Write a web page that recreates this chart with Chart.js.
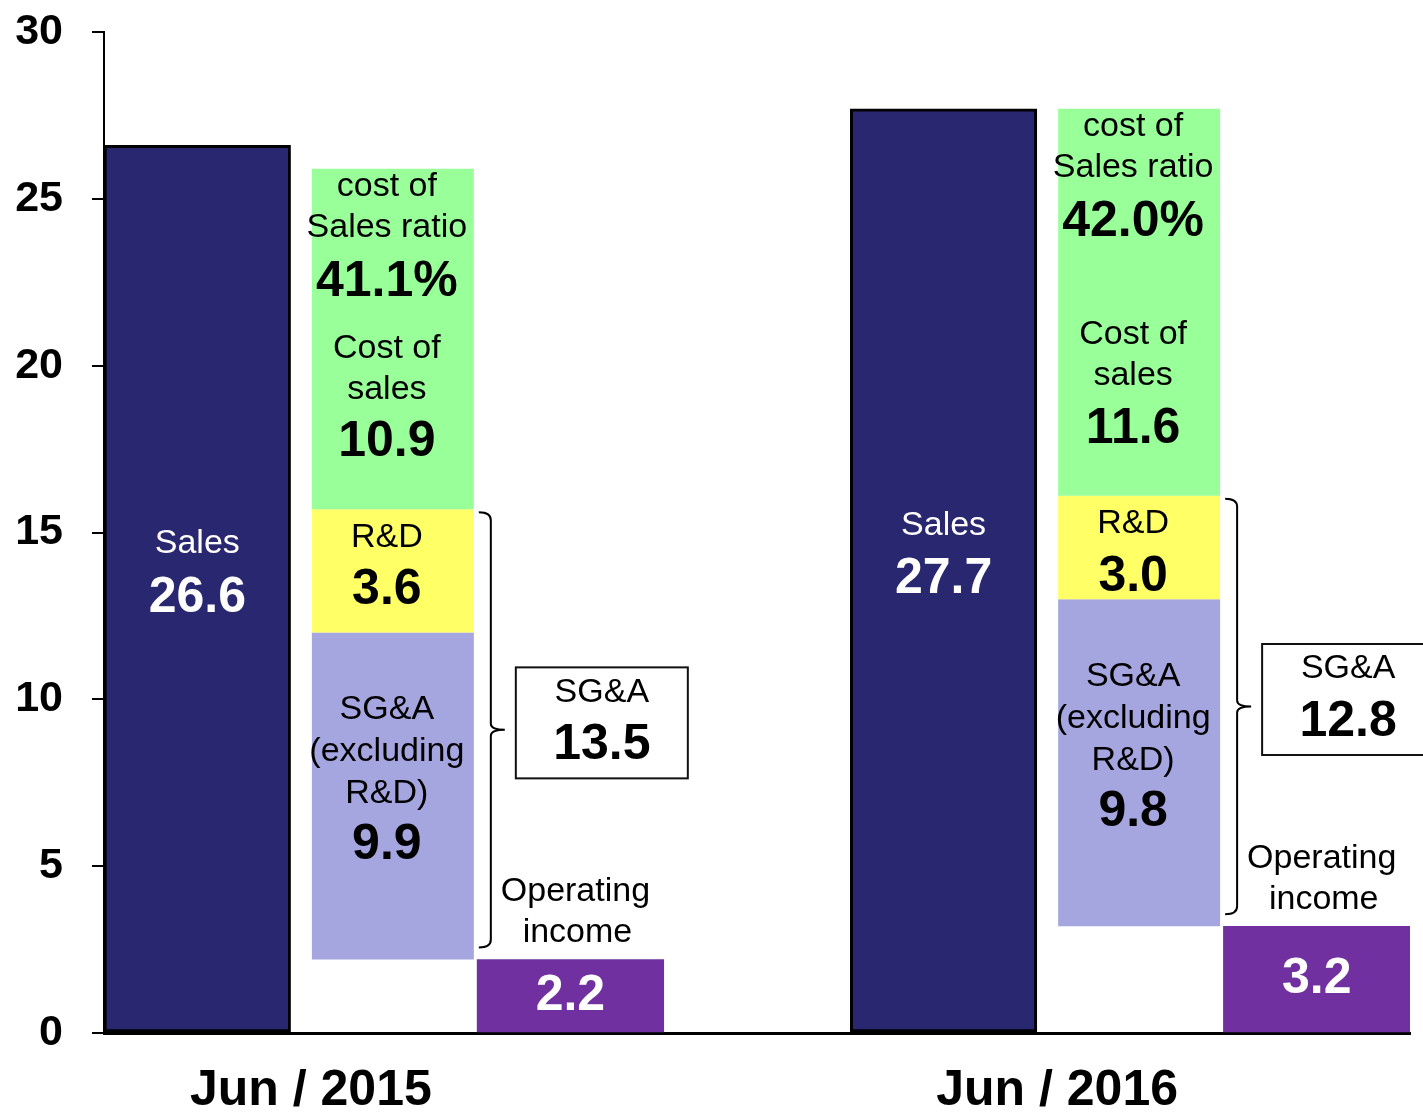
<!DOCTYPE html>
<html>
<head>
<meta charset="utf-8">
<script src="https://cdn.jsdelivr.net/npm/chart.js@4"></script>
<style>
  body { margin: 0; background: #fff; overflow: hidden; }
  canvas { display: block; }
</style>
</head>
<body>
<canvas id="chart" width="1423" height="1113"></canvas>
<script>
// periods on the x axis
const periods = ['Jun / 2015', 'Jun / 2016'];

// bar extents as drawn on the slide
const sales = [26.6, 27.7];
const costOfSales = [[15.7, 25.9], [16.1, 27.7]];
const rnd = [[12.0, 15.7], [13.0, 16.1]];
const sgaExRnd = [[2.2, 12.0], [3.2, 13.0]];
const operatingIncome = [2.2, 3.2];

// figures printed on the bars
const costRatioText = ['41.1%', '42.0%'];
const costText = ['10.9', '11.6'];
const rndText = ['3.6', '3.0'];
const sgaExText = ['9.9', '9.8'];
const sgaTotalText = ['13.5', '12.8'];

const FONT = '"Liberation Sans", Arial, sans-serif';

// three columns per period (sales / cost breakdown / operating income), one empty slot between periods
const slotLabels = [];
const slotOf = [];
periods.forEach((p, i) => {
  if (i > 0) slotLabels.push('');
  slotOf.push(slotLabels.length);
  slotLabels.push('', p, '');
});

const place = (values, col) => {
  const arr = slotLabels.map(() => null);
  values.forEach((v, i) => { arr[slotOf[i] + col] = Array.isArray(v) ? v : [0, v]; });
  return arr;
};

const STACK_SHIFT = 9;
const COLS = [0, 1, 1, 1, 2];

const annotations = {
  id: 'annotations',
  beforeDatasetDraw(chart, args) {
    if (COLS[args.index] === 1) {
      chart.ctx.save();
      chart.ctx.translate(STACK_SHIFT, 0);
    }
  },
  afterDatasetDraw(chart, args) {
    if (COLS[args.index] === 1) chart.ctx.restore();
  },
  afterDatasetsDraw(chart) {
    const ctx = chart.ctx;
    const bar = (ds, i) => chart.getDatasetMeta(ds).data[slotOf[i] + COLS[ds]];
    const txt = (s, x, y, bold, color) => {
      ctx.font = (bold ? 'bold 50px ' : '34px ') + FONT;
      ctx.fillStyle = color || '#000';
      ctx.textAlign = 'center';
      ctx.textBaseline = 'middle';
      ctx.fillText(s, x, y);
    };

    ctx.save();
    periods.forEach((p, i) => {
      // sales
      const s = bar(0, i);
      const sc = (s.y + s.base) / 2;
      txt('Sales', s.x, sc - 45, false, '#fff');
      txt(sales[i].toFixed(1), s.x, sc + 9, true, '#fff');

      // cost of sales
      const c = bar(1, i);
      const cx = c.x + 3;
      const cTop = Math.min(c.y, c.base), cBot = Math.max(c.y, c.base);
      txt('cost of', cx, cTop + 18);
      txt('Sales ratio', cx, cTop + 59);
      txt(costRatioText[i], cx, cTop + 113, true);
      txt('Cost of', cx, cBot - 161);
      txt('sales', cx, cBot - 120);
      txt(costText[i], cx, cBot - 67, true);

      // R&D
      const r = bar(2, i);
      const rTop = Math.min(r.y, r.base);
      txt('R&D', cx, rTop + 28);
      txt(rndText[i], cx, rTop + 81, true);

      // SG&A excluding R&D
      const g = bar(3, i);
      const gTop = Math.min(g.y, g.base), gBot = Math.max(g.y, g.base);
      txt('SG&A', cx, gTop + 77);
      txt('(excluding', cx, gTop + 119);
      txt('R&D)', cx, gTop + 161);
      txt(sgaExText[i], cx, gTop + 213, true);

      // operating income
      const o = bar(4, i);
      txt(operatingIncome[i].toFixed(1), o.x, (o.y + o.base) / 2, true, '#fff');
      txt('Operating', o.x + 5, o.y - 68);
      txt('income', o.x + 7, o.y - 27);

      // bracket around R&D + SG&A
      const bx = c.x + STACK_SHIFT + c.width / 2 + 17;
      const top = rTop + 3, bottom = gBot - 12, mid = (top + bottom) / 2;
      ctx.strokeStyle = '#000';
      ctx.lineWidth = 2;
      ctx.beginPath();
      ctx.moveTo(bx - 12, top);
      ctx.quadraticCurveTo(bx, top, bx, top + 8);
      ctx.lineTo(bx, mid - 6);
      ctx.quadraticCurveTo(bx, mid, bx + 14, mid);
      ctx.quadraticCurveTo(bx, mid, bx, mid + 6);
      ctx.lineTo(bx, bottom - 8);
      ctx.quadraticCurveTo(bx, bottom, bx - 12, bottom);
      ctx.stroke();

      // SG&A total box
      const boxW = 172, boxH = 111;
      const boxL = bx + 25, boxT = mid - 7 - boxH / 2;
      ctx.fillStyle = '#fff';
      ctx.fillRect(boxL, boxT, boxW, boxH);
      ctx.strokeStyle = '#111';
      ctx.strokeRect(boxL, boxT, boxW, boxH);
      txt('SG&A', boxL + boxW / 2, boxT + 25);
      txt(sgaTotalText[i], boxL + boxW / 2, boxT + 78, true);
    });
    ctx.restore();
  }
};

new Chart(document.getElementById('chart'), {
  type: 'bar',
  data: {
    labels: slotLabels,
    datasets: [
      { label: 'Sales', data: place(sales, 0), backgroundColor: '#28276F',
        borderColor: '#000', borderWidth: 3, borderSkipped: false },
      { label: 'Cost of sales', data: place(costOfSales, 1), backgroundColor: '#99FF99', barPercentage: 0.868 },
      { label: 'R&D', data: place(rnd, 1), backgroundColor: '#FFFF66', barPercentage: 0.868 },
      { label: 'SG&A (excluding R&D)', data: place(sgaExRnd, 1), backgroundColor: '#A5A5DF', barPercentage: 0.868 },
      { label: 'Operating income', data: place(operatingIncome, 2), backgroundColor: '#7030A0' }
    ]
  },
  options: {
    responsive: false,
    animation: false,
    layout: { padding: { left: 15, top: 32, right: 13, bottom: 0 } },
    datasets: { bar: { categoryPercentage: 1, barPercentage: 1 } },
    plugins: { legend: { display: false }, tooltip: { enabled: false } },
    scales: {
      x: {
        stacked: true,
        grid: { display: false, drawTicks: false },
        border: { display: true, color: '#000', width: 3 },
        ticks: {
          autoSkip: false, maxRotation: 0, minRotation: 0,
          labelOffset: -73, padding: 28, color: '#000',
          font: { family: FONT, size: 50, weight: 'bold' }
        },
        afterFit: (scale) => { scale.height = 80; }
      },
      y: {
        min: 0, max: 30,
        grid: { drawOnChartArea: false, drawTicks: true, tickLength: 12, color: '#000', lineWidth: 2 },
        border: { display: true, color: '#000', width: 2 },
        ticks: {
          stepSize: 5, padding: 29, color: '#000',
          font: { family: FONT, size: 43, weight: 'bold' }
        },
        afterFit: (scale) => {
          scale.width = 89;
          scale.paddingTop = 0;
          scale.paddingBottom = 0;
        }
      }
    }
  },
  plugins: [annotations]
});
</script>
</body>
</html>
